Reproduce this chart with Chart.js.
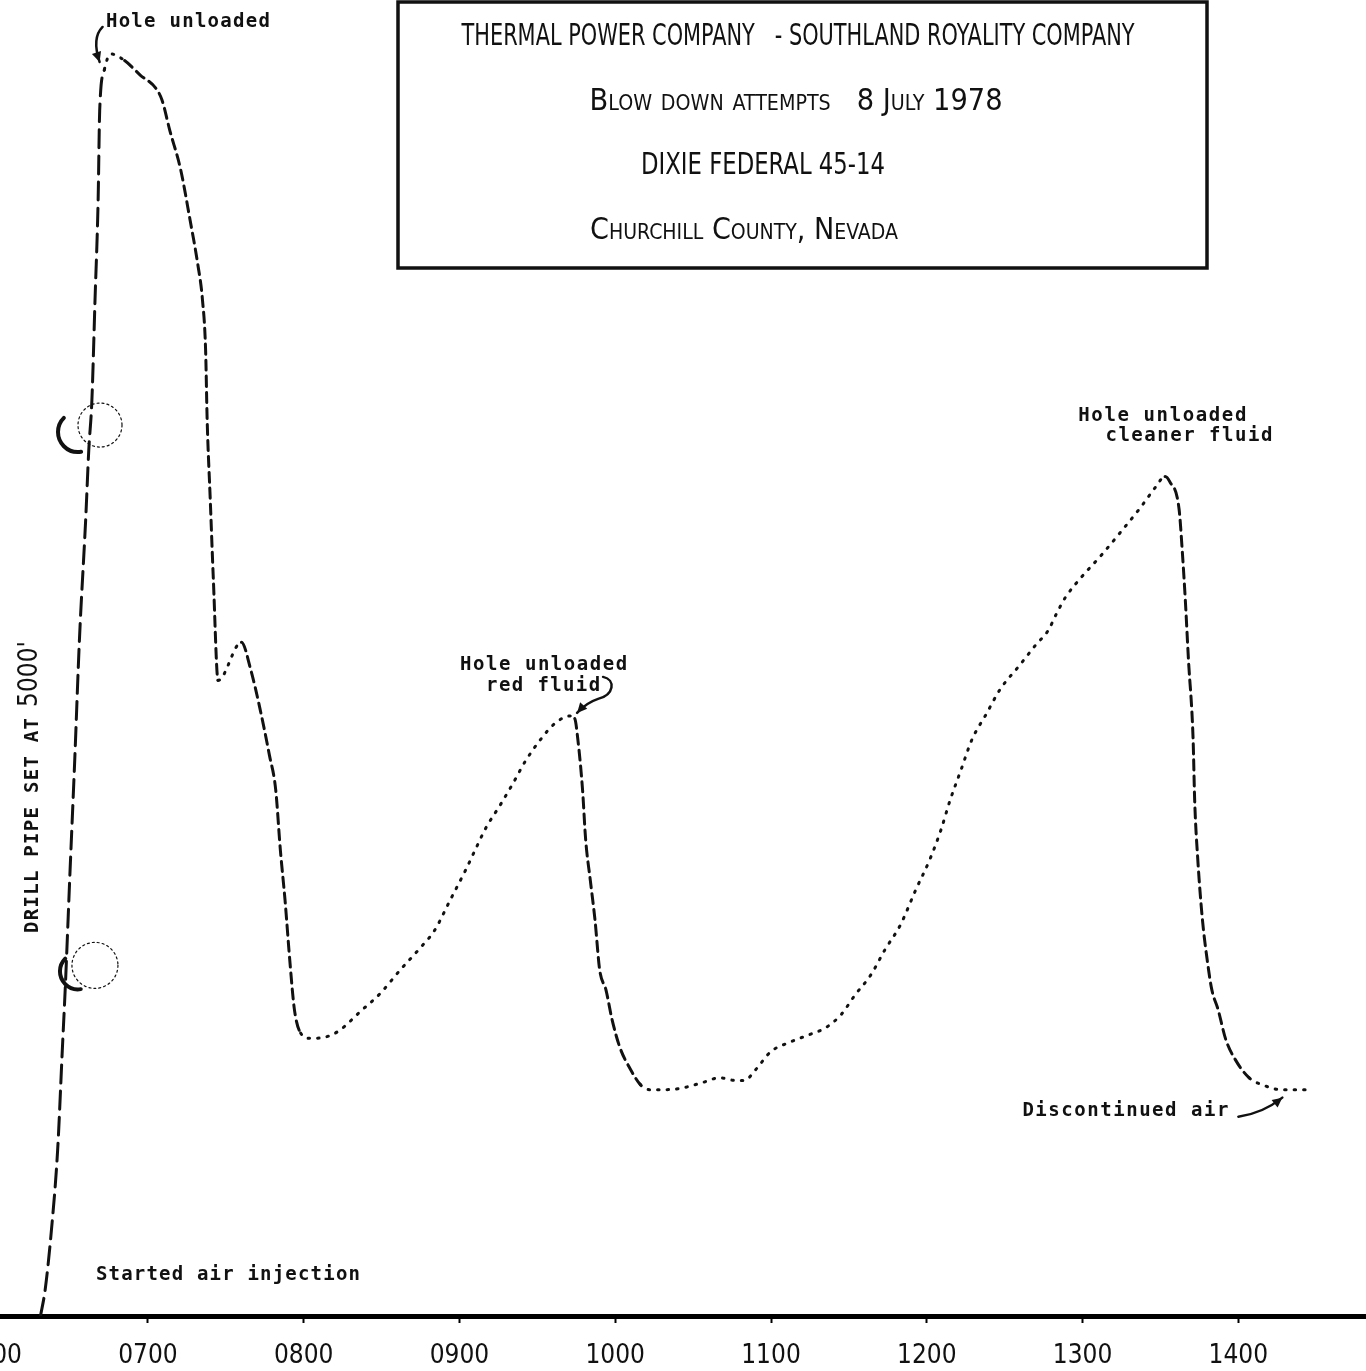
<!DOCTYPE html>
<html>
<head>
<meta charset="utf-8">
<script src="https://cdn.jsdelivr.net/npm/chart.js@4.4.1/dist/chart.umd.min.js"></script>
<style>
  html, body { margin: 0; padding: 0; background: #fff; }
  canvas { display: block; }
</style>
</head>
<body>
<canvas id="chart" width="1366" height="1371"></canvas>
<script>
// time of day on the x axis (decimal hours)
const tickHours = [6, 7, 8, 9, 10, 11, 12, 13, 14];
const tickLabels = ['0600', '0700', '0800', '0900', '1000', '1100', '1200', '1300', '1400'];

// traced curve: time (hours) and relative reading (no scale on original)
const hours = [
  6.31, 6.34, 6.38, 6.42, 6.45, 6.47, 6.50, 6.53, 6.56, 6.60,
  6.62, 6.64, 6.66, 6.68, 6.69, 6.72, 6.76, 6.85, 6.95, 7.05,
  7.09, 7.14, 7.21, 7.27, 7.32, 7.35, 7.37, 7.38, 7.40, 7.42,
  7.45, 7.60, 7.66, 7.72, 7.78, 7.82, 7.85, 7.88, 7.91, 7.94,
  7.98, 8.04, 8.14, 8.23, 8.36, 8.49, 8.62, 8.75, 8.84, 8.94,
  9.04, 9.10, 9.17, 9.26, 9.34, 9.42, 9.52, 9.61, 9.71, 9.74,
  9.76, 9.79, 9.81, 9.84, 9.87, 9.90, 9.94, 9.98, 10.03, 10.10,
  10.16, 10.22, 10.32, 10.42, 10.55, 10.67, 10.77, 10.83, 10.90, 11.00,
  11.12, 11.25, 11.35, 11.45, 11.54, 11.64, 11.73, 11.83, 11.93, 12.02,
  12.09, 12.15, 12.22, 12.29, 12.38, 12.47, 12.60, 12.70, 12.78, 12.83,
  12.89, 12.99, 13.12, 13.24, 13.37, 13.47, 13.53, 13.56, 13.62, 13.64,
  13.66, 13.68, 13.71, 13.72, 13.74, 13.77, 13.80, 13.83, 13.87, 13.92,
  13.98, 14.07, 14.17, 14.27, 14.43
];
const reading = [
  0, 2.0, 6.5, 12.6, 20.2, 25.2, 33.9, 42.3, 51.4, 60.5,
  65.8, 69.6, 77.2, 84.8, 91.6, 94.7, 95.9, 95.4, 94.3, 93.3,
  92.4, 90.1, 87.1, 83.3, 79.9, 77.2, 73.4, 68.1, 62.0, 55.9,
  48.3, 51.2, 49.1, 46.1, 42.6, 40.0, 35.4, 31.6, 27.1, 23.3,
  21.5, 21.1, 21.2, 21.7, 23.1, 24.5, 26.3, 28.0, 29.3, 31.6,
  33.9, 35.4, 37.1, 38.8, 40.4, 42.1, 43.8, 45.0, 45.6, 45.4,
  43.8, 40.0, 36.2, 33.1, 30.1, 26.3, 24.8, 22.5, 20.4, 18.7,
  17.6, 17.2, 17.2, 17.3, 17.7, 18.1, 17.9, 17.9, 18.7, 20.1,
  20.8, 21.4, 21.9, 22.9, 24.4, 25.9, 27.8, 29.7, 32.4, 34.7,
  36.9, 39.2, 41.5, 43.8, 45.7, 47.6, 49.5, 51.0, 52.1, 53.3,
  54.6, 56.1, 57.8, 59.5, 61.4, 63.0, 63.8, 63.4, 61.3, 58.2,
  54.4, 49.9, 43.8, 39.2, 34.7, 30.1, 27.1, 24.8, 23.3, 21.0,
  19.5, 18.1, 17.5, 17.2, 17.2
];

const titleLines = [
  'THERMAL POWER COMPANY   - SOUTHLAND ROYALITY COMPANY',
  'Blow down attempts   8 July 1978',
  'DIXIE FEDERAL 45-14',
  'Churchill County, Nevada'
];

const TYPE = "'DejaVu Sans Mono', monospace";
const NARROW = "'Liberation Sans Narrow', 'DejaVu Sans Condensed', sans-serif";
const INK = '#111';

// stretch letter spacing so a typed line covers the given width
function typed(ctx, text, x, y, width) {
  ctx.letterSpacing = '0px';
  const w = ctx.measureText(text).width;
  ctx.letterSpacing = ((width - w) / (text.length - 1)) + 'px';
  ctx.textAlign = 'left';
  ctx.textBaseline = 'middle';
  ctx.fillText(text, x, y);
  ctx.letterSpacing = '0px';
}

// squeeze a line horizontally to fit width, centred on cx
function squeezed(ctx, text, cx, cy, width) {
  const w = ctx.measureText(text).width;
  ctx.save();
  ctx.translate(cx, cy);
  ctx.scale(width / w, 1);
  ctx.textAlign = 'center';
  ctx.textBaseline = 'middle';
  ctx.fillText(text, 0, 0);
  ctx.restore();
}

function arrowHead(ctx, from, tip, size) {
  const a = Math.atan2(tip.y - from.y, tip.x - from.x);
  ctx.beginPath();
  ctx.moveTo(tip.x, tip.y);
  ctx.lineTo(tip.x - size * Math.cos(a - 0.45), tip.y - size * Math.sin(a - 0.45));
  ctx.lineTo(tip.x - size * Math.cos(a + 0.45), tip.y - size * Math.sin(a + 0.45));
  ctx.closePath();
  ctx.fill();
}

const paperPlugin = {
  id: 'paper',
  afterDraw(chart) {
    const ctx = chart.ctx;
    const xs = chart.scales.x, ys = chart.scales.y;
    const at = (t, v, dx = 0, dy = 0) => ({ x: xs.getPixelForValue(t) + dx, y: ys.getPixelForValue(v) + dy });
    ctx.save();
    ctx.fillStyle = INK;
    ctx.strokeStyle = INK;

    // title box
    ctx.lineWidth = 3.5;
    ctx.strokeRect(398, 2, 809, 266);
    ctx.font = "31px " + NARROW;
    squeezed(ctx, titleLines[0], 798, 37, 673);
    ctx.font = "small-caps 30px " + NARROW;
    squeezed(ctx, titleLines[1], 796, 102, 413);
    ctx.font = "31px " + NARROW;
    squeezed(ctx, titleLines[2], 763, 166, 244);
    ctx.font = "small-caps 30px " + NARROW;
    squeezed(ctx, titleLines[3], 744, 231, 308);

    // typed notes, anchored in data units
    ctx.font = "bold 19px " + TYPE;
    let p = at(6.73, 98.3);   typed(ctx, 'Hole unloaded', p.x, p.y, 164);
    p = at(9.004, 49.5);      typed(ctx, 'Hole unloaded', p.x, p.y, 167);
    p = at(9.171, 47.9);      typed(ctx, 'red fluid', p.x, p.y, 114);
    p = at(12.973, 68.4);     typed(ctx, 'Hole unloaded', p.x, p.y, 168);
    p = at(13.147, 66.9);     typed(ctx, 'cleaner fluid', p.x, p.y, 167);
    p = at(12.614, 15.6);     typed(ctx, 'Discontinued air', p.x, p.y, 206);
    p = at(6.666, 3.1);       typed(ctx, 'Started air injection', p.x, p.y, 264);

    // vertical note along the left edge
    ctx.save();
    ctx.translate(chart.chartArea.left + 33, 0);
    ctx.rotate(-Math.PI / 2);
    ctx.font = "bold 19px " + TYPE;
    typed(ctx, 'DRILL PIPE SET AT', -933, 0, 215);
    ctx.font = "26px " + NARROW;
    typed(ctx, "5000'", -707, -3, 66);
    ctx.restore();

    // arrows
    ctx.lineWidth = 2.5;
    ctx.lineCap = 'round';
    let a0 = at(6.76, 95.9, -8, -27), c = at(6.76, 95.9, -19, -16), tip = at(6.76, 95.9, -11, 8);
    ctx.beginPath(); ctx.moveTo(a0.x, a0.y); ctx.quadraticCurveTo(c.x, c.y, tip.x, tip.y); ctx.stroke();
    arrowHead(ctx, c, tip, 11);

    a0 = at(9.71, 45.6, 33, -39);
    const h1 = at(9.71, 45.6, 46, -36), h2 = at(9.71, 45.6, 44, -21), m = at(9.71, 45.6, 28, -17);
    c = at(9.71, 45.6, 16, -13); tip = at(9.71, 45.6, 7, -3);
    ctx.beginPath(); ctx.moveTo(a0.x, a0.y); ctx.bezierCurveTo(h1.x, h1.y, h2.x, h2.y, m.x, m.y);
    ctx.quadraticCurveTo(c.x, c.y, tip.x, tip.y); ctx.stroke();
    arrowHead(ctx, c, tip, 11);

    a0 = at(14.27, 17.2, -42, 27); c = at(14.27, 17.2, -18, 24); tip = at(14.27, 17.2, 2, 8);
    ctx.beginPath(); ctx.moveTo(a0.x, a0.y); ctx.quadraticCurveTo(c.x, c.y, tip.x, tip.y); ctx.stroke();
    arrowHead(ctx, c, tip, 11);

    // hand drawn rings on the rising leg
    const rings = [[6.615, 65.8], [6.467, 25.2]];
    rings.forEach(([t, v], i) => {
      const o = at(t, v);
      const thin = i === 0 ? { x: o.x + 12, y: o.y - 25, r: 22 } : { x: o.x + 30, y: o.y - 19, r: 23 };
      const thick = i === 0 ? { x: o.x - 10, y: o.y - 18, r: 20 } : { x: o.x + 13, y: o.y - 13, r: 18 };
      ctx.lineWidth = 1.2;
      ctx.setLineDash([2, 3]);
      ctx.beginPath(); ctx.arc(thin.x, thin.y, thin.r, 0, Math.PI * 2); ctx.stroke();
      ctx.setLineDash([]);
      ctx.lineWidth = 4;
      ctx.beginPath(); ctx.arc(thick.x, thick.y, thick.r, 1.25 * Math.PI, 0.45 * Math.PI, true); ctx.stroke();
    });
    ctx.restore();
  }
};

// dash style follows the pen: long dashes up the steep rise, dashes on drops, dots on slow change
function penDash(seg) {
  const dx = Math.abs(seg.p1.x - seg.p0.x);
  const dy = seg.p1.y - seg.p0.y;
  if (dy < 0 && -dy > 4 * dx) return [18, 8];
  if (dy > 0 && dy > 0.8 * dx) return [10, 6];
  return [1.5, 8];
}

const ctx = document.getElementById('chart').getContext('2d');
new Chart(ctx, {
  type: 'line',
  data: {
    datasets: [{
      data: hours.map((h, i) => ({ x: h, y: reading[i] })),
      borderColor: INK,
      borderWidth: 3,
      borderCapStyle: 'round',
      pointRadius: 0,
      cubicInterpolationMode: 'monotone',
      segment: { borderDash: penDash }
    }]
  },
  options: {
    responsive: false,
    animation: false,
    events: [],
    layout: { padding: 0 },
    plugins: { legend: { display: false }, tooltip: { enabled: false } },
    scales: {
      x: {
        type: 'linear',
        min: 6.05,
        max: 14.82,
        afterBuildTicks: (scale) => { scale.ticks = tickHours.map(v => ({ value: v })); },
        afterFit: (scale) => { scale.height = 55; scale.paddingLeft = 0; scale.paddingRight = 0; },
        border: { display: true, color: '#000', width: 5 },
        grid: { display: true, drawOnChartArea: false, drawTicks: true, tickLength: 7, tickWidth: 2, tickColor: '#000' },
        ticks: {
          autoSkip: false,
          maxRotation: 0,
          padding: 18,
          color: INK,
          font: { family: NARROW, size: 26 },
          callback: (v, i) => tickLabels[i]
        }
      },
      y: { display: false, min: 0, max: 100 }
    }
  },
  plugins: [paperPlugin]
});
</script>
</body>
</html>
